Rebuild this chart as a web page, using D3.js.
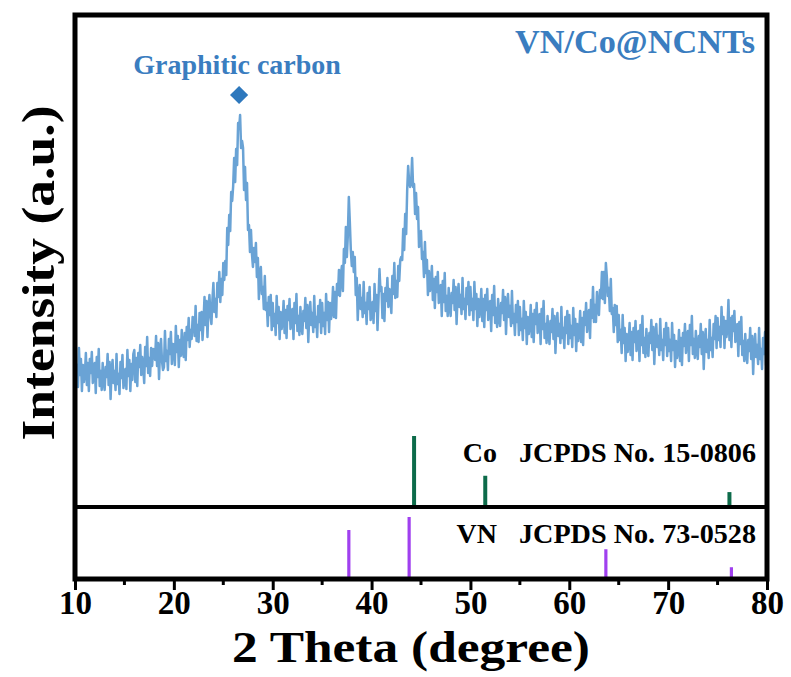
<!DOCTYPE html>
<html>
<head>
<meta charset="utf-8">
<script src="https://cdn.jsdelivr.net/npm/d3@7"></script>
<style>
  html, body { margin: 0; padding: 0; background: #fff; }
  svg text { font-family: "Liberation Serif", "Times New Roman", serif; font-weight: bold; }
</style>
</head>
<body>
<svg id="chart" width="791" height="677"></svg>
<script>
"use strict";

const thetaStart = 10;
const thetaStep = 0.1;
const intensity = [
  153,130,142,120,159,132,148,116,142,125,
  133,154,122,144,116,148,134,155,124,141,
  144,114,150,130,158,121,136,117,144,125,
  117,140,130,153,122,145,108,136,147,124,
  136,117,153,123,133,113,145,129,152,119,
  126,138,118,157,131,147,116,143,127,153,
  157,125,149,121,154,140,162,132,150,140,
  124,160,141,170,134,149,131,159,141,158,
  157,147,171,141,164,128,156,168,146,137,
  140,176,146,156,137,168,153,175,143,163,
  162,142,181,155,171,140,167,151,177,155,
  150,174,147,180,167,189,160,177,168,190,
  189,171,201,166,182,165,194,177,195,167,
  186,210,182,206,170,199,212,191,183,207,
  224,195,208,190,224,210,235,205,228,212,
  244,227,246,232,279,262,292,276,315,306,
  321,349,325,358,342,384,378,392,359,366,
  359,317,340,307,324,277,282,255,277,253,
  240,259,245,264,230,249,208,232,240,213,
  220,198,231,197,204,181,210,192,212,177,
  204,181,193,172,211,184,200,168,195,178,
  185,206,174,197,169,201,187,208,178,195,
  198,168,204,184,213,176,191,172,200,181,
  173,196,186,209,179,202,165,193,205,182,
  194,175,211,180,190,170,201,185,207,174,
  204,181,194,173,213,187,205,175,204,188,
  197,220,190,215,189,223,212,237,211,233,
  241,216,258,244,280,250,272,310,285,257,
  241,255,235,250,212,229,187,212,222,198,
  209,190,225,194,204,183,214,198,220,187,
  193,205,184,223,196,212,177,207,238,216,
  220,189,213,186,219,206,229,200,218,210,
  194,231,213,244,209,226,210,241,226,247,
  250,247,278,257,293,273,316,341,325,320,
  324,349,320,323,293,314,288,300,260,273,
  276,248,255,230,265,234,247,212,236,216,
  222,241,207,228,199,230,215,235,204,220,
  222,191,226,205,234,196,211,191,219,200,
  191,214,204,227,197,220,183,211,223,200,
  212,193,229,198,208,188,219,203,225,192,
  220,197,208,187,225,198,213,181,208,190,
  198,218,186,208,180,212,197,218,187,204,
  206,176,212,192,221,184,199,180,208,189,
  181,204,194,217,187,210,173,201,213,190,
  201,181,216,184,193,172,202,185,206,172,
  200,177,188,167,206,179,195,163,190,173,
  181,202,170,193,165,197,183,204,174,191,
  193,163,198,178,206,169,183,164,191,172,
  163,186,175,198,168,191,154,182,194,171,
  183,164,200,169,179,159,190,174,196,163,
  192,169,181,160,199,172,188,156,183,166,
  174,196,165,189,162,195,182,204,175,193,
  197,169,207,189,220,185,202,185,215,198,
  192,217,209,235,208,235,204,244,230,211,
  219,196,228,193,199,175,202,182,201,165,
  192,167,177,154,192,164,179,146,173,155,
  163,184,152,175,147,179,165,186,156,173,
  176,146,182,162,191,154,169,150,178,159,
  151,174,164,187,157,180,143,171,183,160,
  171,152,188,157,167,147,178,162,184,151,
  179,156,167,146,184,157,172,140,166,149,
  156,177,146,169,142,174,161,183,154,172,
  176,146,182,162,191,153,168,149,176,157,
  148,171,160,183,153,175,138,166,178,155,
  167,149,187,157,169,150,183,168,191,159,
  189,167,180,160,200,173,190,159,186,170,
  179,207,167,189,160,191,176,196,165,181,
  183,151,185,163,190,152,166,146,173,153,
  144,167,156,179,148,171,133,161,173,150,
  162,143,179,148,158,138,169,153,175,142,
  155
];

// reference patterns (2 theta, relative intensity)
const coPeaks = [44.3, 51.5, 76.2];
const coHeights = [100, 44, 21];
const vnPeaks = [37.7, 43.8, 63.7, 76.4];
const vnHeights = [79, 100, 48, 19];

const xTicks = [10, 20, 30, 40, 50, 60, 70, 80];
const xMinorTicks = [15, 25, 35, 45, 55, 65, 75];

const graphitePeak = 26.6;

const svg = d3.select('#chart');

const plotLeft = 75, plotRight = 767, plotTop = 15, plotMid = 507, plotBottom = 579;

const x = d3.scaleLinear().domain([10, 80]).range([plotLeft, plotRight]);
const y = d3.scaleLinear().domain([0, 494]).range([plotMid, 13]);
const yCo = d3.scaleLinear().domain([0, 100]).range([plotMid, 436]);
const yVn = d3.scaleLinear().domain([0, 100]).range([plotBottom, 517]);

const trace = intensity.map(function(v, i){
    return {t: thetaStart + i * thetaStep, v: v};
});

/*-- XRD curve ---------------------------------------------------------------*/
svg.append('defs').append('clipPath').attr('id', 'clip')
   .append('rect')
   .attr('x', plotLeft).attr('y', plotTop)
   .attr('width', plotRight - plotLeft).attr('height', plotMid - plotTop);

svg.append('path')
   .datum(trace)
   .attr('clip-path', 'url(#clip)')
   .attr('fill', 'none')
   .attr('stroke', '#6aa3d5')
   .attr('stroke-width', 2.5)
   .attr('stroke-linejoin', 'round')
   .attr('d', d3.line().x(function(d){return x(d.t);}).y(function(d){return y(d.v);}));

/*-- reference sticks --------------------------------------------------------*/
svg.selectAll('line.co')
   .data(coPeaks)
   .enter()
   .append('line')
   .attr('class', 'co')
   .attr('x1', function(d){return x(d);})
   .attr('x2', function(d){return x(d);})
   .attr('y1', yCo(0))
   .attr('y2', function(d, i){return yCo(coHeights[i]);})
   .attr('stroke', '#0d6b4a')
   .attr('stroke-width', 4);

svg.selectAll('line.vn')
   .data(vnPeaks)
   .enter()
   .append('line')
   .attr('class', 'vn')
   .attr('x1', function(d){return x(d);})
   .attr('x2', function(d){return x(d);})
   .attr('y1', yVn(0))
   .attr('y2', function(d, i){return yVn(vnHeights[i]);})
   .attr('stroke', '#a040ef')
   .attr('stroke-width', 3.2);

/*-- frame ---------------------------------------------------------------------*/
svg.append('rect')
   .attr('x', plotLeft).attr('y', plotTop)
   .attr('width', plotRight - plotLeft).attr('height', plotBottom - plotTop)
   .attr('fill', 'none')
   .attr('stroke', '#000')
   .attr('stroke-width', 5);

svg.append('line')
   .attr('x1', plotLeft).attr('x2', plotRight)
   .attr('y1', plotMid).attr('y2', plotMid)
   .attr('stroke', '#000')
   .attr('stroke-width', 4);

/*-- x axis ------------------------------------------------------------------*/
const xAxis = svg.append('g')
   .attr('transform', 'translate(0,' + plotBottom + ')')
   .call(d3.axisBottom(x).tickValues(xTicks).tickSize(11).tickFormat(d3.format('d')));
xAxis.select('.domain').remove();
xAxis.selectAll('.tick line').attr('stroke', '#000').attr('stroke-width', 3);
xAxis.selectAll('.tick text')
     .attr('fill', '#000')
     .attr('dy', 0)
     .attr('y', 35)
     .style('font-size', '33px')
     .style('font-family', '"Liberation Serif", serif')
     .style('font-weight', 'bold');

svg.append('g')
   .selectAll('line')
   .data(xMinorTicks)
   .enter()
   .append('line')
   .attr('x1', function(d){return x(d);})
   .attr('x2', function(d){return x(d);})
   .attr('y1', plotBottom)
   .attr('y2', plotBottom + 6)
   .attr('stroke', '#000')
   .attr('stroke-width', 3);

svg.append('text')
   .attr('x', 411)
   .attr('y', 662)
   .attr('text-anchor', 'middle')
   .attr('textLength', 358)
   .attr('lengthAdjust', 'spacingAndGlyphs')
   .style('font-size', '44px')
   .text('2 Theta (degree)');

svg.append('text')
   .attr('transform', 'translate(54,273) rotate(-90)')
   .attr('text-anchor', 'middle')
   .attr('textLength', 335)
   .attr('lengthAdjust', 'spacingAndGlyphs')
   .style('font-size', '47px')
   .text('Intensity (a.u.)');

/*-- annotations -------------------------------------------------------------*/
svg.append('text')
   .attr('x', 755)
   .attr('y', 53)
   .attr('text-anchor', 'end')
   .attr('fill', '#3a7dc0')
   .attr('textLength', 240)
   .attr('lengthAdjust', 'spacingAndGlyphs')
   .style('font-size', '33px')
   .text('VN/Co@NCNTs');

svg.append('text')
   .attr('x', x(graphitePeak) - 2)
   .attr('y', 74)
   .attr('text-anchor', 'middle')
   .attr('fill', '#3a7dc0')
   .style('font-size', '28px')
   .text('Graphitic carbon');

svg.append('path')
   .attr('d', d3.symbol(d3.symbolSquare, 165)())
   .attr('transform', 'translate(' + x(graphitePeak) + ',95) rotate(45)')
   .attr('fill', '#2e78bd');

svg.append('text')
   .attr('x', 497).attr('y', 462)
   .attr('text-anchor', 'end')
   .style('font-size', '28px')
   .text('Co');
svg.append('text')
   .attr('x', 756).attr('y', 462)
   .attr('text-anchor', 'end')
   .attr('textLength', 237)
   .attr('lengthAdjust', 'spacingAndGlyphs')
   .style('font-size', '28px')
   .text('JCPDS No. 15-0806');

svg.append('text')
   .attr('x', 497).attr('y', 543)
   .attr('text-anchor', 'end')
   .style('font-size', '28px')
   .text('VN');
svg.append('text')
   .attr('x', 756).attr('y', 543)
   .attr('text-anchor', 'end')
   .attr('textLength', 237)
   .attr('lengthAdjust', 'spacingAndGlyphs')
   .style('font-size', '28px')
   .text('JCPDS No. 73-0528');
</script>
</body>
</html>
